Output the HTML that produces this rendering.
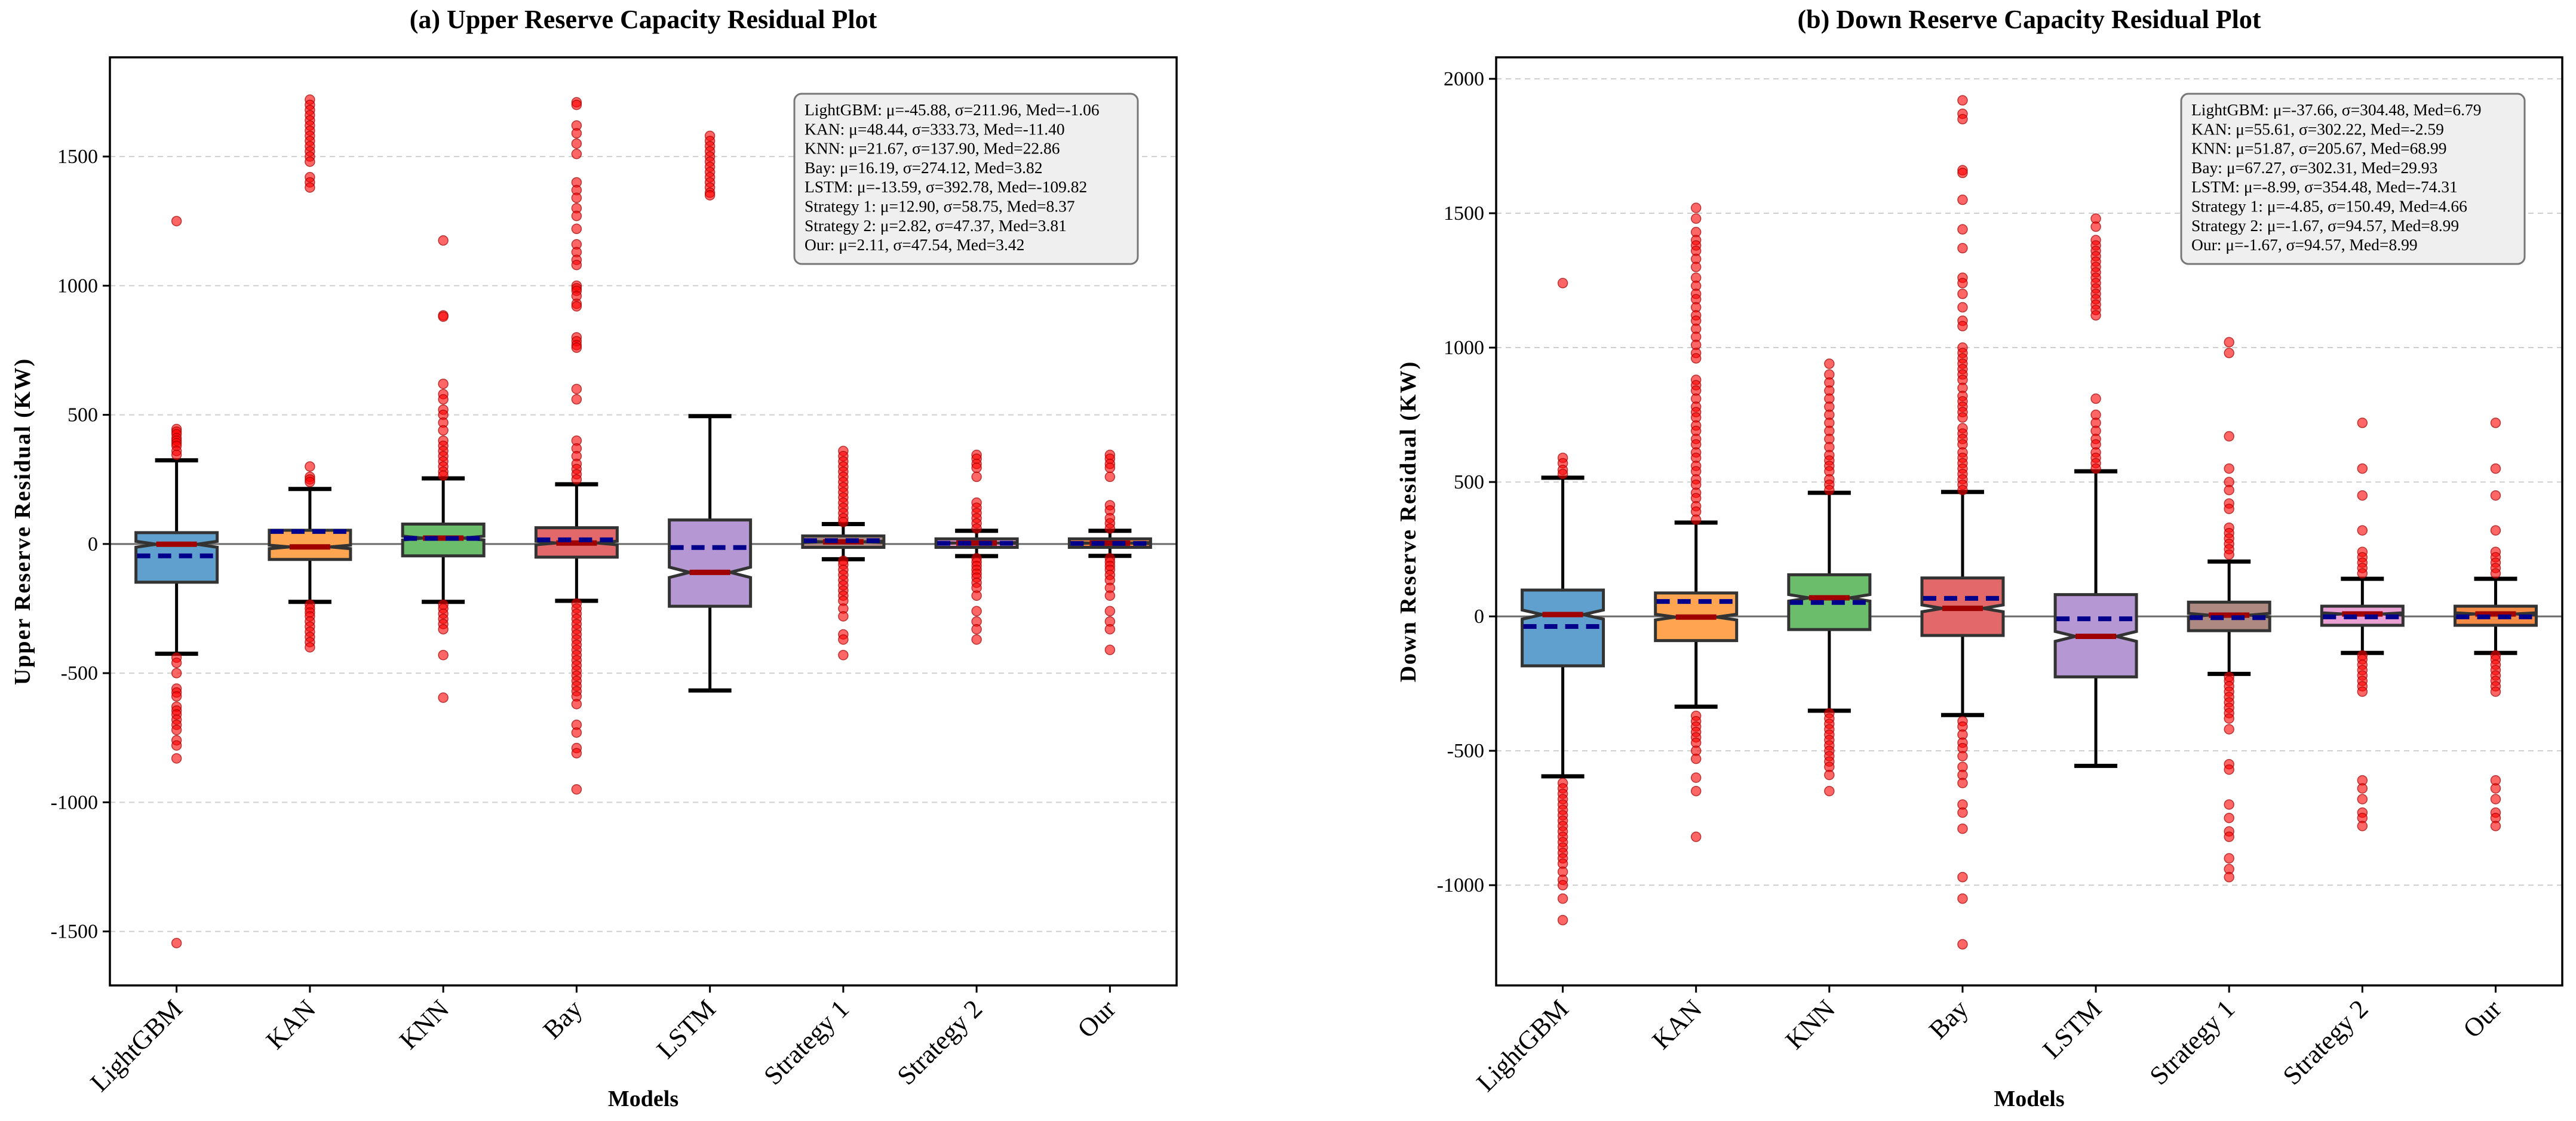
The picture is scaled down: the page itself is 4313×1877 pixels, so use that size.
<!DOCTYPE html>
<html><head><meta charset="utf-8"><style>
html,body{margin:0;padding:0;background:#fff;}
svg{display:block;font-family:"Liberation Serif","DejaVu Serif",serif;}
</style></head><body>
<svg id="chart" width="4313" height="1877" viewBox="0 0 4313 1877" xmlns="http://www.w3.org/2000/svg"></svg>
<script>
const categories = ["LightGBM","KAN","KNN","Bay","LSTM","Strategy 1","Strategy 2","Our"];
const boxColors = ["#5fa0ce","#ffa552","#6bbd6b","#e26869","#b497d3","#ae8981","#eba0d4","#f58a45"];

// Panel (a) upper reserve
const upQ1   = [-148, -60, -46, -51, -241, -13, -13, -13];
const upMed  = [-1.06, -11.40, 22.86, 3.82, -109.82, 8.37, 3.81, 3.42];
const upQ3   = [44, 53, 77, 63, 93, 31, 20, 20];
const upMean = [-45.88, 48.44, 21.67, 16.19, -13.59, 12.90, 2.82, 2.11];
const upWLo  = [-425, -224, -224, -220, -567, -59, -47, -46];
const upWHi  = [324, 213, 254, 231, 495, 77, 51, 51];
const upOut0 = [1250,445,435,425,410,400,390,380,360,345,-440,-460,-500,-560,-575,-590,-630,-645,-660,-680,-700,-720,-760,-780,-830,-1545];
const upOut1 = [1720,1700,1680,1660,1640,1620,1600,1580,1560,1540,1520,1500,1480,1420,1400,1380,300,260,250,240,-235,-250,-265,-280,-300,-320,-340,-360,-380,-400];
const upOut2 = [1175,885,880,620,580,560,520,500,470,440,400,380,360,340,320,300,280,265,-235,-250,-270,-290,-310,-330,-430,-595];
const upOut3 = [1710,1700,1620,1590,1550,1510,1400,1370,1340,1300,1270,1220,1160,1130,1100,1080,1000,990,980,960,930,920,800,785,770,760,600,560,400,370,340,310,290,270,250,-230,-250,-270,-290,-310,-330,-350,-370,-390,-410,-430,-450,-470,-490,-510,-530,-550,-570,-590,-620,-700,-730,-790,-810,-950];
const upOut4 = [1580,1560,1540,1520,1500,1480,1460,1440,1420,1400,1380,1360,1350];
const upOut5 = [360,340,320,300,280,260,240,220,200,180,160,140,120,100,85,-65,-80,-100,-120,-140,-160,-180,-200,-220,-250,-280,-350,-370,-430];
const upOut6 = [345,330,310,295,260,160,140,120,100,80,60,-55,-70,-85,-100,-115,-130,-150,-170,-200,-260,-300,-330,-370];
const upOut7 = [345,330,310,295,260,150,130,100,80,60,-55,-70,-85,-100,-120,-140,-170,-200,-260,-300,-330,-410];
const upOutliers = [upOut0,upOut1,upOut2,upOut3,upOut4,upOut5,upOut6,upOut7];
const upTicks = [-1500,-1000,-500,0,500,1000,1500];
const upLegend = [
 "LightGBM: μ=-45.88, σ=211.96, Med=-1.06",
 "KAN: μ=48.44, σ=333.73, Med=-11.40",
 "KNN: μ=21.67, σ=137.90, Med=22.86",
 "Bay: μ=16.19, σ=274.12, Med=3.82",
 "LSTM: μ=-13.59, σ=392.78, Med=-109.82",
 "Strategy 1: μ=12.90, σ=58.75, Med=8.37",
 "Strategy 2: μ=2.82, σ=47.37, Med=3.81",
 "Our: μ=2.11, σ=47.54, Med=3.42"];

// Panel (b) down reserve
const dnQ1   = [-184, -90, -49, -71, -225, -53, -33, -33];
const dnMed  = [6.79, -2.59, 68.99, 29.93, -74.31, 4.66, 8.99, 8.99];
const dnQ3   = [98, 87, 155, 143, 81, 53, 38, 38];
const dnMean = [-37.66, 55.61, 51.87, 67.27, -8.99, -4.85, -1.67, -1.67];
const dnWLo  = [-595, -336, -351, -367, -556, -214, -136, -136];
const dnWHi  = [516, 349, 460, 463, 540, 204, 140, 140];
const dnOut0 = [1240,590,570,545,530,-620,-640,-660,-680,-700,-720,-740,-760,-780,-800,-820,-840,-860,-880,-900,-920,-950,-980,-1000,-1050,-1130];
const dnOut1 = [1520,1480,1430,1400,1380,1360,1330,1300,1260,1230,1200,1180,1150,1120,1100,1070,1040,1010,980,960,880,860,840,810,780,760,740,710,690,660,640,610,590,560,540,510,490,460,440,410,390,360,-370,-390,-410,-430,-450,-470,-500,-530,-600,-650,-820];
const dnOut2 = [940,900,870,840,810,780,750,720,690,660,630,600,580,560,540,510,490,470,-360,-380,-400,-420,-440,-460,-480,-500,-520,-540,-560,-590,-650];
const dnOut3 = [1920,1870,1850,1660,1650,1550,1440,1370,1260,1240,1200,1150,1100,1080,1000,980,960,940,920,900,880,850,820,800,780,760,740,700,680,660,640,610,590,570,550,530,510,490,470,-390,-410,-440,-470,-490,-520,-560,-590,-620,-700,-730,-790,-970,-1050,-1220];
const dnOut4 = [1480,1450,1400,1380,1360,1340,1320,1300,1280,1260,1240,1220,1200,1180,1160,1140,1120,810,750,720,690,660,640,610,590,570,550];
const dnOut5 = [1020,980,670,550,500,470,420,400,330,310,290,270,250,230,-225,-240,-260,-280,-300,-320,-340,-360,-380,-420,-550,-570,-700,-750,-800,-820,-900,-940,-970];
const dnOut6 = [720,550,450,320,240,220,200,180,160,-145,-160,-180,-200,-220,-240,-260,-280,-610,-640,-680,-730,-750,-780];
const dnOut7 = [720,550,450,320,240,220,200,180,160,-145,-160,-180,-200,-220,-240,-260,-280,-610,-640,-680,-730,-750,-780];
const dnOutliers = [dnOut0,dnOut1,dnOut2,dnOut3,dnOut4,dnOut5,dnOut6,dnOut7];
const dnTicks = [-1000,-500,0,500,1000,1500,2000];
const dnLegend = [
 "LightGBM: μ=-37.66, σ=304.48, Med=6.79",
 "KAN: μ=55.61, σ=302.22, Med=-2.59",
 "KNN: μ=51.87, σ=205.67, Med=68.99",
 "Bay: μ=67.27, σ=302.31, Med=29.93",
 "LSTM: μ=-8.99, σ=354.48, Med=-74.31",
 "Strategy 1: μ=-4.85, σ=150.49, Med=4.66",
 "Strategy 2: μ=-1.67, σ=94.57, Med=8.99",
 "Our: μ=-1.67, σ=94.57, Med=8.99"];

const NS = "http://www.w3.org/2000/svg";
const svg = document.getElementById("chart");
function mk(tag, attrs, parent, text){
  const e = document.createElementNS(NS, tag);
  for (const k in attrs) e.setAttribute(k, attrs[k]);
  if (text !== undefined) e.textContent = text;
  (parent||svg).appendChild(e);
  return e;
}

function drawPanel(p){
  const g = mk("g", {});
  
  
  const L=p.left, R=p.right, T=96, B=1650;
  const yS = v => T + (p.ymax - v) / (p.ymax - p.ymin) * (B - T);
  const step = (R - L) / categories.length;
  const xS = i => L + step * (i + 0.5);
  const bw = 136, capw = 72;

  p.ticks.forEach(t => {
    if (t === 0) return;
    const gl = mk("line", {x1:L, x2:R, y1:yS(t), y2:yS(t), stroke:"#cfcfcf", "stroke-width":2, "stroke-dasharray":"9,7"}, g);
    
    
  });
  const zl = mk("line", {x1:L, x2:R, y1:yS(0), y2:yS(0), stroke:"#6a6a6a", "stroke-width":3}, g);
  
  

  categories.forEach((c, i) => {
    const cx = xS(i);
    const bg = mk("g", {}, g);
    
    
    const q1=p.q1[i], q3=p.q3[i], md=p.med[i];
    const n = 0.06*(q3-q1);
    mk("line", {x1:cx,x2:cx,y1:yS(q3),y2:yS(p.wHi[i]),stroke:"#000","stroke-width":5}, bg);
    mk("line", {x1:cx,x2:cx,y1:yS(q1),y2:yS(p.wLo[i]),stroke:"#000","stroke-width":5}, bg);
    mk("line", {x1:cx-capw/2,x2:cx+capw/2,y1:yS(p.wHi[i]),y2:yS(p.wHi[i]),stroke:"#000","stroke-width":7}, bg);
    mk("line", {x1:cx-capw/2,x2:cx+capw/2,y1:yS(p.wLo[i]),y2:yS(p.wLo[i]),stroke:"#000","stroke-width":7}, bg);
    const l=cx-bw/2, r=cx+bw/2, wl=cx-bw/4, wr=cx+bw/4;
    const d = `M${l},${yS(q1)} L${l},${yS(md-n)} L${wl},${yS(md)} L${l},${yS(md+n)} L${l},${yS(q3)} L${r},${yS(q3)} L${r},${yS(md+n)} L${wr},${yS(md)} L${r},${yS(md-n)} L${r},${yS(q1)} Z`;
    mk("path", {d:d, fill:boxColors[i], stroke:"#333", "stroke-width":5, "stroke-linejoin":"miter"}, bg);
    p.out[i].forEach(v => {
      const o = mk("circle", {cx:cx, cy:yS(v), r:8, fill:"rgba(255,0,0,0.6)", stroke:"rgba(160,0,0,0.7)", "stroke-width":1.5}, bg);
      
      
    });
    const m = mk("line", {x1:wl,x2:wr,y1:yS(md),y2:yS(md),stroke:"#a00000","stroke-width":9}, bg);
    
    
    const mn = mk("line", {x1:l+2,x2:r-2,y1:yS(p.mean[i]),y2:yS(p.mean[i]),stroke:"#00008b","stroke-width":8,"stroke-dasharray":"22,13"}, bg);
    
    
    mk("line", {x1:cx,x2:cx,y1:B,y2:B+12,stroke:"#000","stroke-width":3}, g);
    const tl = mk("text", {x:0,y:0,"font-size":44,"text-anchor":"end",transform:`translate(${cx+12},${B+42}) rotate(-45)`}, g, c);
    
    
  });

  p.ticks.forEach(t => {
    mk("line", {x1:L-12,x2:L,y1:yS(t),y2:yS(t),stroke:"#000","stroke-width":3}, g);
    const yt = mk("text", {x:L-20,y:yS(t)+11,"font-size":34,"text-anchor":"end"}, g, String(t));
    
    
  });

  const fr = mk("rect", {x:L,y:T,width:R-L,height:B-T,fill:"none",stroke:"#000","stroke-width":3.5}, g);
  
  

  const lg = mk("g", {}, g);
  
  
  mk("rect", {x:p.legX,y:157,width:575,height:285,rx:12,fill:"#efefef",stroke:"#777","stroke-width":3}, lg);
  p.legend.forEach((s, k) => {
    const lt = mk("text", {x:p.legX+17,y:193+k*32.3,"font-size":27.5}, lg, s);
    
    
  });

  const tt = mk("text", {x:(L+R)/2,y:47,"font-size":44,"font-weight":"bold","text-anchor":"middle"}, g, p.title);
  
  
  const yl = mk("text", {x:0,y:0,"font-size":38,"font-weight":"bold","text-anchor":"middle","letter-spacing":"2",transform:`translate(${p.ylabX},${(T+B)/2}) rotate(-90)`}, g, p.ylabel);
  
  
  const xl = mk("text", {x:(L+R)/2,y:1852,"font-size":38,"font-weight":"bold","text-anchor":"middle"}, g, "Models");
  
  
}

drawPanel({id:"upper", left:184, right:1970, ymin:-1709, ymax:1884, ticks:upTicks,
  q1:upQ1, med:upMed, q3:upQ3, mean:upMean, wLo:upWLo, wHi:upWHi, out:upOutliers,
  legend:upLegend, legX:1330, title:"(a) Upper Reserve Capacity Residual Plot",
  ylabel:"Upper Reserve Residual (KW)", ylabX:50});
drawPanel({id:"down", left:2505, right:4290, ymin:-1373, ymax:2080, ticks:dnTicks,
  q1:dnQ1, med:dnMed, q3:dnQ3, mean:dnMean, wLo:dnWLo, wHi:dnWHi, out:dnOutliers,
  legend:dnLegend, legX:3652, title:"(b) Down Reserve Capacity Residual Plot",
  ylabel:"Down Reserve Residual (KW)", ylabX:2370});
</script>
</body></html>
